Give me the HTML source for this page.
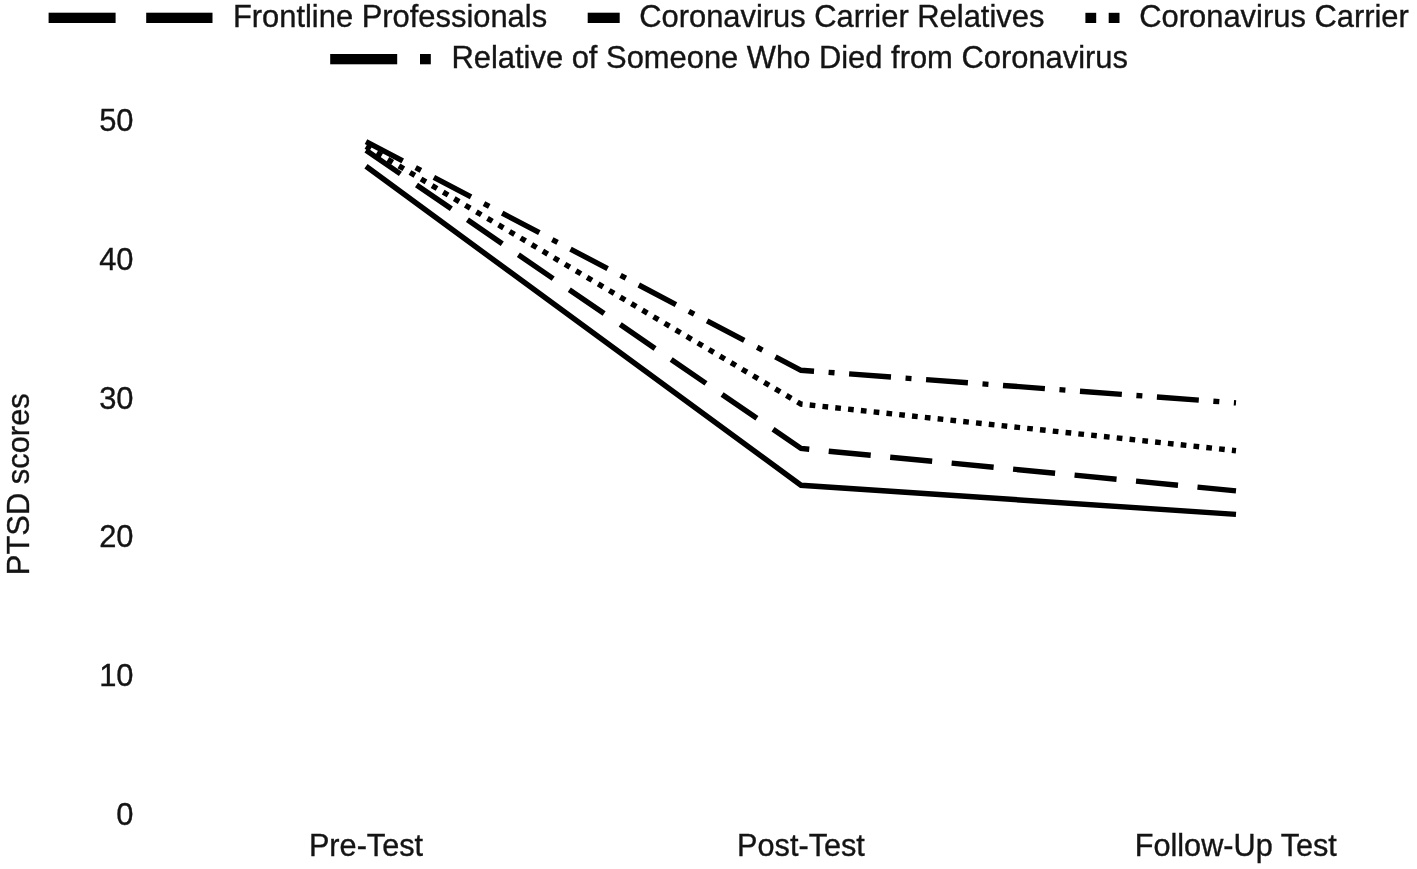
<!DOCTYPE html>
<html><head><meta charset="utf-8"><title>PTSD scores</title>
<style>
html,body{margin:0;padding:0;background:#fff;}
svg{display:block}
text{font-family:"Liberation Sans",Arial,sans-serif;font-size:30.9px;fill:#141414;stroke:#141414;stroke-width:0.35px}
.xl text{font-size:30.67px}
.ln{fill:none;stroke:#000;stroke-width:5.4;stroke-linejoin:miter;stroke-linecap:butt}
</style></head><body>
<svg width="1417" height="869" viewBox="0 0 1417 869">
<rect width="1417" height="869" fill="#fff"/>
<!-- legend -->
<g fill="#000">
<rect x="48.6" y="12.7" width="67" height="10.3"/>
<rect x="146.2" y="12.7" width="66.3" height="10.3"/>
<rect x="587.7" y="12.7" width="32" height="10.3"/>
<rect x="1085.4" y="12.8" width="10.8" height="10.2"/>
<rect x="1108.7" y="12.8" width="10.8" height="10.2"/>
<rect x="330.2" y="54" width="67" height="10.3"/>
<rect x="420" y="54" width="10.8" height="10.3"/>
</g>
<text x="232.9" y="27">Frontline Professionals</text>
<text x="639.2" y="27">Coronavirus Carrier Relatives</text>
<text x="1139.3" y="27">Coronavirus Carrier</text>
<text x="451.5" y="68.2">Relative of Someone Who Died from Coronavirus</text>
<!-- y axis -->
<g text-anchor="end">
<text x="133.5" y="131.4">50</text>
<text x="133.5" y="270">40</text>
<text x="133.5" y="408.6">30</text>
<text x="133.5" y="547.2">20</text>
<text x="133.5" y="685.8">10</text>
<text x="133.5" y="825.3">0</text>
</g>
<text transform="translate(29.4,484.2) rotate(-90)" text-anchor="middle">PTSD scores</text>
<g class="xl" text-anchor="middle">
<text x="366.0" y="855.7">Pre-Test</text>
<text x="801.0" y="855.7">Post-Test</text>
<text x="1235.8" y="855.7">Follow-Up Test</text>
</g>
<!-- lines -->
<polyline class="ln" points="366,166.3 801,485.3 1236,514.4"/>
<polyline class="ln" stroke-dasharray="42.2 19.55" stroke-dashoffset="0.5" points="366,150.3 801,448.5 1236,490.9"/>
<polyline class="ln" stroke-dasharray="5.7 7.167" stroke-dashoffset="0.35" points="366,146.4 801,404.1 1236,450.7"/>
<polyline class="ln" stroke-dasharray="42.0 14.6 5.97 14.6" stroke-dashoffset="0.5" points="366,141.6 801,370.3 1236,402.9"/>
</svg>
</body></html>
